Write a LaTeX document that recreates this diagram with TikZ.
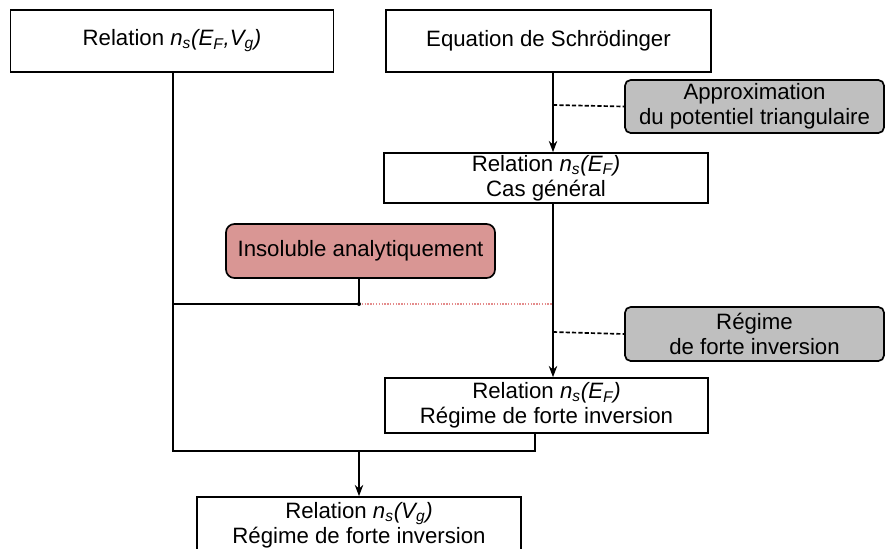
\documentclass[tikz,border=0pt]{standalone}
\usepackage{fontspec}
\setmainfont{Liberation Sans}
\usetikzlibrary{arrows.meta}
\definecolor{rosebox}{RGB}{217,150,148}
\definecolor{greybox}{RGB}{191,191,191}
\definecolor{dotred}{RGB}{228,140,140}
\newcommand{\nsub}[1]{\textit{n\textsubscript{s}(#1)}}

\begin{document}
\begin{tikzpicture}[x=0.025cm, y=-0.025cm,
		font=\fontsize{15.8}{17.8}\selectfont,
		box/.style={draw, line width=1.2pt, inner sep=0pt, align=center, fill=white},
		hypo/.style={box, rounded corners=4pt, fill=greybox},
		fleche/.style={line width=1.1pt, -{Stealth[length=8pt, width=6pt]}},
		trait/.style={line width=1.1pt},
		tirets/.style={line width=1.2pt, dash pattern=on 3pt off 1.5pt}]
		\useasboundingbox (0, 0) rectangle (886, 548);
		\clip (0, 0) rectangle (886, 548);

		% boites du haut
		\node[box, minimum width=323*0.025cm, minimum height=62*0.025cm] (relEFVg) at (172, 41) {Relation \nsub{E\textsubscript{F},V\textsubscript{g}}};
		\node[box, minimum width=325*0.025cm, minimum height=62*0.025cm] (schro) at (548.5, 41) {Equation de Schr\"odinger};

		% hypotheses (grises)
		\node[hypo, minimum width=259*0.025cm, minimum height=53*0.025cm] (approx) at (754.5, 106.5) {Approximation\\du potentiel triangulaire};
		\node[hypo, minimum width=259*0.025cm, minimum height=54*0.025cm] (regime) at (754.5, 334) {R\'egime\\de forte inversion};

		% relations intermediaires
		\node[box, minimum width=324*0.025cm, minimum height=50*0.025cm] (relEF) at (546, 178) {Relation \nsub{E\textsubscript{F}}\\Cas g\'en\'eral};
		\node[box, minimum width=323*0.025cm, minimum height=55*0.025cm] (relFI) at (546.5, 405.5) {Relation \nsub{E\textsubscript{F}}\\R\'egime de forte inversion};
		\node[box, rounded corners=6pt, fill=rosebox, minimum width=269*0.025cm, minimum height=54*0.025cm] (insol) at (360.5, 251) {Insoluble analytiquement};

		% resultat final
		\node[box, minimum width=324*0.025cm, minimum height=56*0.025cm] (relVg) at (359, 525) {Relation \nsub{V\textsubscript{g}}\\R\'egime de forte inversion};

		% points de passage
		\coordinate (hA) at (553, 105);
		\coordinate (hB) at (553, 332);
		\coordinate (jonc) at (359, 304);
		\coordinate (gauche) at (173, 304);
		\coordinate (bas) at (359, 451);
		\coordinate (coinG) at (173, 451);
		\coordinate (coinD) at (535, 451);

		% chaine de droite
		\draw[fleche] (schro.south -| hA) -- (relEF.north -| hA);
		\draw[fleche] (relEF.south -| hB) -- (relFI.north -| hB);
		\draw[tirets] (hA) -- (approx.west);
		\draw[tirets] (hB) -- (regime.west);

		% branche de gauche
		\draw[trait] (relEFVg.south -| coinG) -- (coinG) -- (coinD) -- (relFI.south -| coinD);
		\draw[trait] (gauche) -- (jonc) -- (jonc |- insol.south);
		\draw[dotred, line width=1pt, dash pattern=on 1pt off 1pt] (jonc) -- (jonc -| hB);
		\fill (jonc) circle (2);
		\draw[fleche] (bas) -- (relVg.north);
	\end{tikzpicture}
\end{document}
